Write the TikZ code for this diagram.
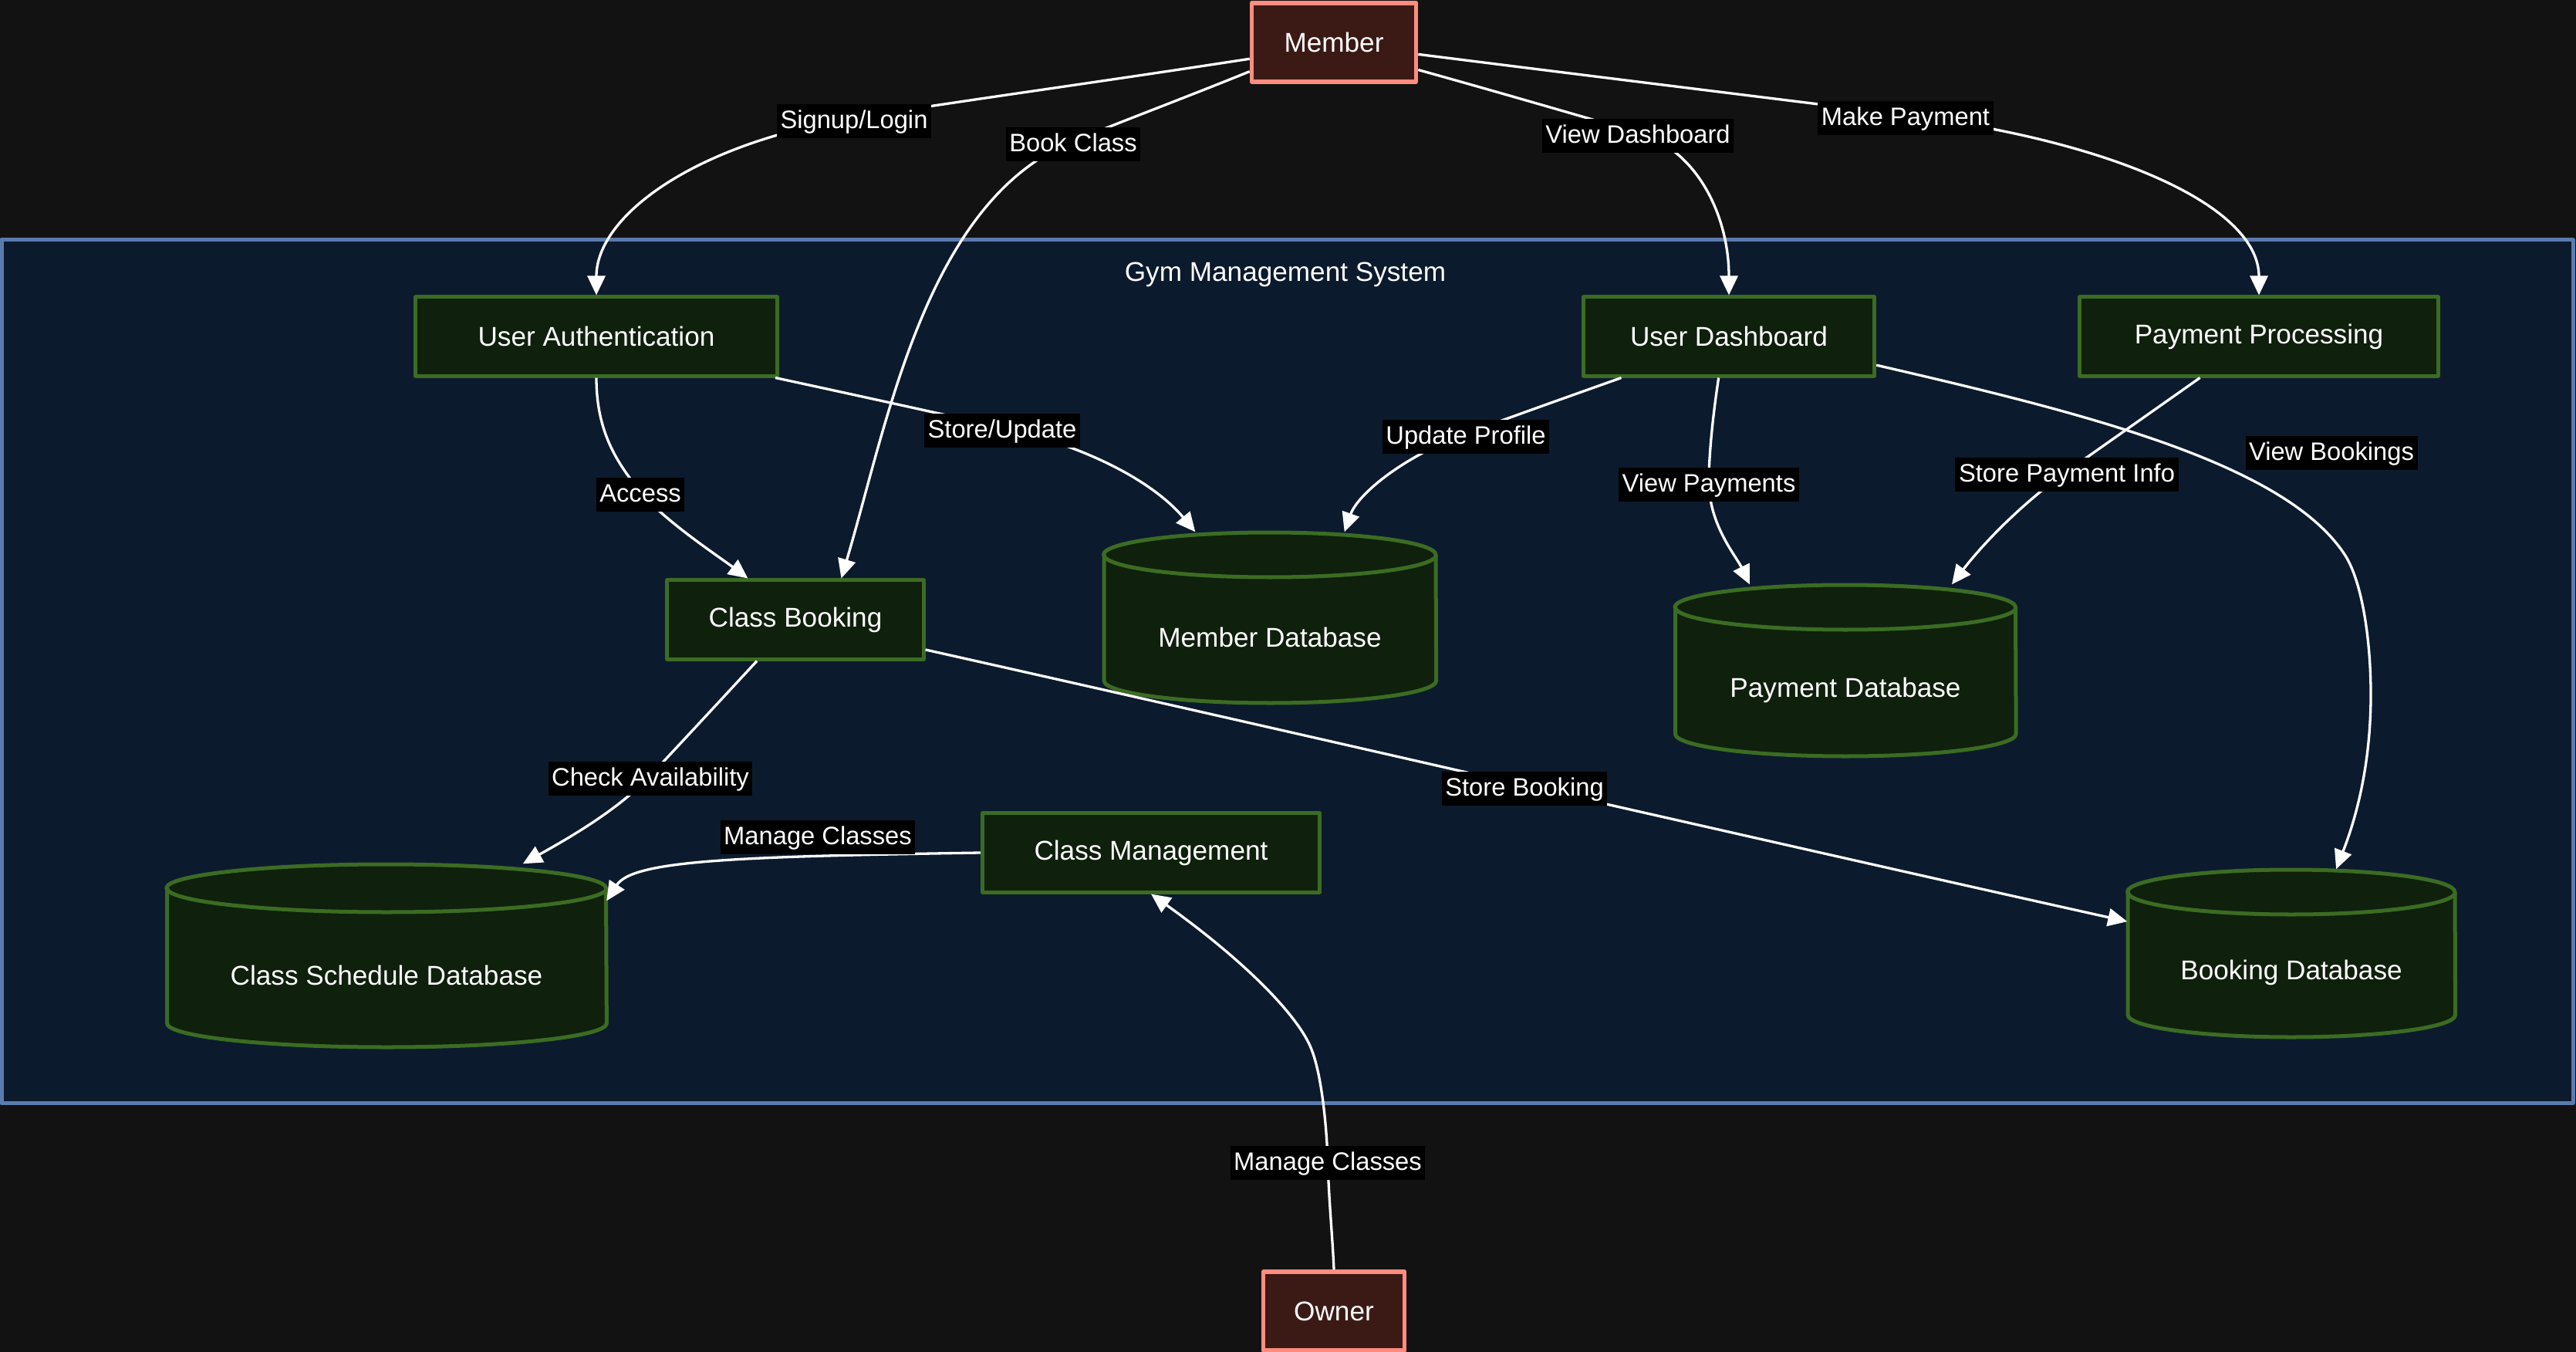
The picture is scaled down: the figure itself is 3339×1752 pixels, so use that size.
\documentclass[tikz,border=0pt]{standalone}
\usepackage{fontspec}
\setmainfont{Liberation Sans}
\usetikzlibrary{arrows.meta,positioning}
\definecolor{pagebg}{HTML}{121212}
\definecolor{sysfill}{HTML}{0C1A2E}
\definecolor{sysline}{HTML}{5A7BAE}
\definecolor{procfill}{HTML}{0F200D}
\definecolor{procline}{HTML}{3B6C22}
\definecolor{actorfill}{HTML}{3B1A15}
\definecolor{actorline}{HTML}{FF8C7E}
\newcommand\boxfont{\fontsize{10}{12}\selectfont}
\newcommand\edgefont{\fontsize{9.3}{11}\selectfont}

\begin{document}
\begin{tikzpicture}[x=0.01cm,y=-0.01cm,>={Triangle[length=0.25cm,width=0.23cm]},line join=round,
  actor/.style={draw=actorline,fill=actorfill,line width=0.055cm,text=white,font=\boxfont,inner sep=0pt,minimum height=1.02cm},
  proc/.style={draw=procline,fill=procfill,line width=0.05cm,text=white,font=\boxfont,inner sep=0pt,minimum height=1.02cm},
  store/.style={draw=procline,fill=procfill,line width=0.05cm},
  flow/.style={->,draw=white,line width=0.033cm},
  lbl/.style={fill=black,text=white,font=\edgefont,inner xsep=1.3pt,inner ysep=1.5pt,text height=0.75em,text depth=0.22em,yshift=-0.04cm}]
\useasboundingbox (0,0) rectangle (3339,1752);
\fill[pagebg] (0,0) rectangle (3339,1752);
% system boundary
\draw[sysline,fill=sysfill,line width=0.05cm] (2,311) rectangle (3335,1429);
\node[text=white,font=\boxfont] (title) at (1666,356) {Gym Management System};
% actors
\node[actor,minimum width=2.13cm] (mem) at (1729,55) {Member};
\node[actor,minimum width=1.83cm] (own) at (1729,1699) {Owner};
% processes
\node[proc,minimum width=4.68cm] (ua) at (773,436) {User Authentication};
\node[proc,minimum width=3.77cm] (ud) at (2241,436) {User Dashboard};
\node[proc,minimum width=4.64cm] (pp) at (2928,436) {Payment Processing};
\node[proc,minimum width=3.32cm] (cb) at (1031,803) {Class Booking};
\node[proc,minimum width=4.37cm] (cm) at (1492,1105) {Class Management};
% data stores: name/centre x/top/width/height/rim
\foreach \nm/\cx/\ty/\w/\h/\ry/\txt in {mdb/1646/690/430/221/29/Member Database,pdb/2392/758/441/222/29/Payment Database,csdb/501/1120/569/237/31/Class Schedule Database,bdb/2970/1127/424/217/29/Booking Database} {
\draw[store] (\cx-\w/2,\ty+\ry) -- (\cx-\w/2,\ty+\h-\ry) arc[start angle=180,end angle=360,x radius=\w*0.005cm,y radius=\ry*0.01cm] -- (\cx+\w/2,\ty+\ry) arc[start angle=0,end angle=180,x radius=\w*0.005cm,y radius=\ry*0.01cm] -- cycle;
\draw[store,fill=none] (\cx-\w/2,\ty+\ry) arc[start angle=180,end angle=360,x radius=\w*0.005cm,y radius=\ry*0.01cm];
\node[inner sep=0pt,minimum width=\w*0.01cm,minimum height=\h*0.01cm] (\nm) at (\cx,\ty+\h/2) {};
\node[text=white,font=\boxfont] (\nm-t) at (\cx,\ty+\h/2+25) {\txt};
}
% label points
\coordinate (lsign) at (1107,153);
\coordinate (lbook) at (1391,183);
\coordinate (ldash) at (2123,172);
\coordinate (lpay) at (2470,149);
\coordinate (lacc) at (830,637);
\coordinate (lstore) at (1299,554);
\coordinate (lprof) at (1900,562);
\coordinate (lvpay) at (2215,624);
\coordinate (lspay) at (2679,611);
\coordinate (lcheck) at (843,1005);
\coordinate (lsbook) at (1976,1018);
\coordinate (lown) at (1721,1503);
\coordinate (vb1) at (3040,720);
\coordinate (vb2) at (3073,900);
\coordinate (vo) at (1700,1360);
% member flows
\draw[flow] (mem.191) .. controls (1400,110) and (1250,130) .. (lsign) .. controls (900,186) and (773,280) .. (ua.north);
\draw[flow] (mem.199) .. controls (1540,125) and (1460,155) .. (lbook) .. controls (1200,260) and (1150,550) .. (cb.42);
\draw[flow] (mem.-18) .. controls (1930,116) and (2030,145) .. (ldash) .. controls (2200,194) and (2241,280) .. (ud.north);
\draw[flow] (mem.-8) .. controls (2050,97) and (2260,123) .. (lpay) .. controls (2750,185) and (2928,270) .. (pp.north);
% internal flows
\draw[flow] (ua.south) .. controls (773,560) and (800,600) .. (lacc) .. controls (860,674) and (930,720) .. (cb.139);
\draw[flow] (ua.-13) .. controls (1100,510) and (1200,532) .. (lstore) .. controls (1420,581) and (1500,630) .. (mdb.131);
\draw[flow] (ud.201) .. controls (2030,515) and (1965,538) .. (lprof) .. controls (1820,591) and (1760,640) .. (mdb.49);
\draw[flow] (ud.256) .. controls (2220,540) and (2215,590) .. (lvpay) .. controls (2215,680) and (2250,720) .. (pdb.138);
\draw[flow] (pp.215) .. controls (2790,533) and (2730,575) .. (lspay) .. controls (2620,653) and (2570,705) .. (pdb.39);
\draw[flow] (ud.-11) .. controls (2700,535) and (2963,600) .. (vb1) .. controls (3062,755) and (3073,830) .. (vb2) .. controls (3073,1000) and (3050,1070) .. (bdb.62);
\draw[flow] (cb.227) .. controls (950,890) and (890,955) .. (lcheck) .. controls (800,1051) and (730,1090) .. (csdb.34);
\draw[flow] (cb.-13) .. controls (1450,898) and (1700,955) .. (lsbook) .. controls (2250,1080) and (2500,1137) .. (bdb.169);
\draw[flow] (cm.west) .. controls (950,1110) and (820,1115) .. (csdb.14);
% owner flow
\draw[flow] (own.north) .. controls (1727,1600) and (1722,1550) .. (lown) .. controls (1719,1450) and (1712,1390) .. (vo) .. controls (1685,1320) and (1620,1250) .. (cm.south);
% edge labels
\node[lbl] (tsign) at (lsign) {Signup/Login};
\node[lbl] (tbook) at (lbook) {Book Class};
\node[lbl] (tdash) at (ldash) {View Dashboard};
\node[lbl] (tpay) at (lpay) {Make Payment};
\node[lbl] (tacc) at (lacc) {Access};
\node[lbl] (tstore) at (lstore) {Store/Update};
\node[lbl] (tprof) at (lprof) {Update Profile};
\node[lbl] (tvpay) at (lvpay) {View Payments};
\node[lbl] (tspay) at (lspay) {Store Payment Info};
\node[lbl] (tvbk) at (3022,583) {View Bookings};
\node[lbl] (tcheck) at (lcheck) {Check Availability};
\node[lbl] (tsbook) at (lsbook) {Store Booking};
\node[lbl] (tmng) at (1060,1081) {Manage Classes};
\node[lbl] (town) at (lown) {Manage Classes};
\end{tikzpicture}
\end{document}
